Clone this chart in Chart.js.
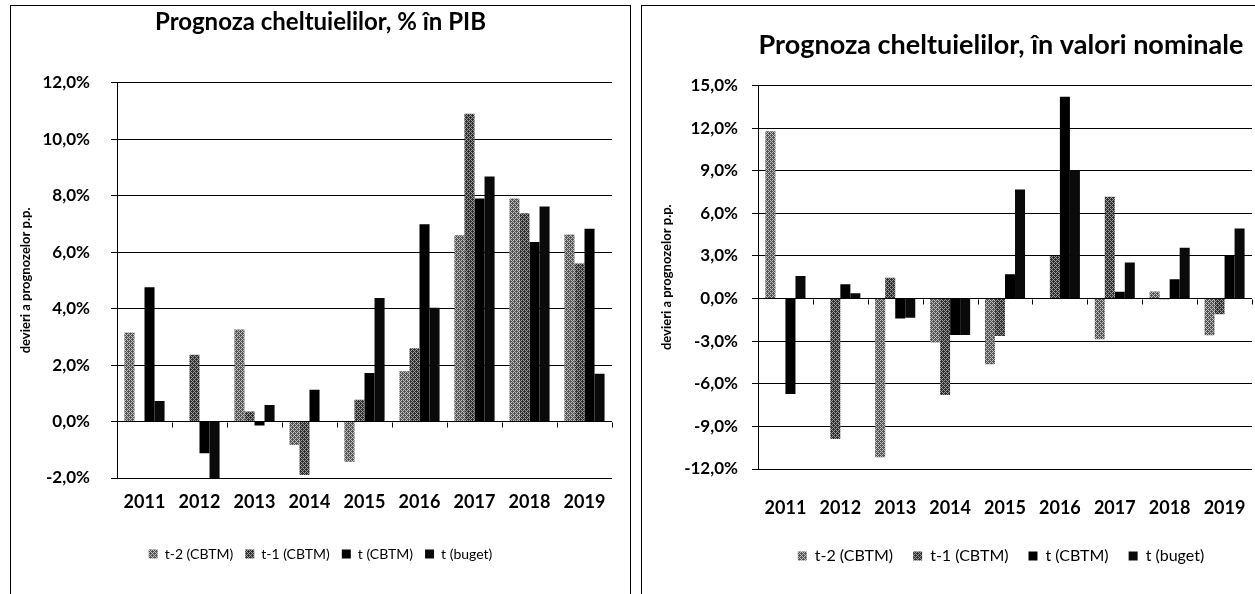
<!DOCTYPE html>
<html>
<head>
<meta charset="utf-8">
<script src="https://cdn.jsdelivr.net/npm/chart.js@4.4.1/dist/chart.umd.min.js"></script>
<style>
  html, body { margin: 0; padding: 0; background: #fff; overflow: hidden; width: 1255px; height: 594px; }
  .frame { position: absolute; border: 1px solid #000; }
  canvas { position: absolute; }
</style>
</head>
<body>
<div class="frame" style="left:10px; top:5px; width:619px; height:600px;"></div>
<div class="frame" style="left:641px; top:5px; width:720px; height:600px;"></div>
<canvas id="pibChart" width="619" height="587" style="left:11px; top:7px;"></canvas>
<canvas id="nomChart" width="718" height="587" style="left:642px; top:7px;"></canvas>
<script>
// categorii si serii
var years = ['2011', '2012', '2013', '2014', '2015', '2016', '2017', '2018', '2019'];
var seriesNames = ['t-2 (CBTM)', 't-1 (CBTM)', 't (CBTM)', 't (buget)'];

// Prognoza cheltuielilor, % in PIB
var pibTm2 = [3.15, 0, 3.26, -0.83, -1.42, 1.78, 6.6, 7.9, 6.63];
var pibTm1 = [0, 2.37, 0.36, -1.89, 0.77, 2.6, 10.9, 7.38, 5.6];
var pibT = [4.76, -1.12, -0.14, 1.13, 1.72, 6.99, 7.9, 6.36, 6.83];
var pibBuget = [0.73, -2.0, 0.59, 0, 4.38, 4.03, 8.68, 7.62, 1.69];

// Prognoza cheltuielilor, in valori nominale
var nomTm2 = [11.78, 0, -11.17, -3.09, -4.62, 0, -2.86, 0.5, -2.58];
var nomTm1 = [0, -9.89, 1.47, -6.8, -2.63, 3.0, 7.17, -0.05, -1.1];
var nomT = [-6.72, 1.0, -1.4, -2.56, 1.71, 14.2, 0.47, 1.36, 3.04];
var nomBuget = [1.59, 0.37, -1.35, -2.56, 7.68, 9.04, 2.53, 3.58, 4.92];

// axe
var pibTicks = {min: -2, max: 12, step: 2};
var nomTicks = {min: -12, max: 15, step: 3};

Chart.defaults.font.family = 'Lato, "Open Sans", sans-serif';
Chart.defaults.color = '#000';

function makePattern(dark, light) {
    var c = document.createElement('canvas');
    c.width = 4;
    c.height = 4;
    var g = c.getContext('2d');
    g.fillStyle = light;
    g.fillRect(0, 0, 4, 4);
    g.fillStyle = dark;
    var dots = [[0,0],[2,0],[1,1],[3,1],[0,2],[2,2],[1,3],[3,3],[1,0],[3,2]];
    dots.forEach(function(d) { g.fillRect(d[0], d[1], 1, 1); });
    return g.createPattern(c, 'repeat');
}

var fills = [
    makePattern('#555555', '#bdbdbd'),
    makePattern('#303030', '#9a9a9a'),
    '#000000',
    '#0a0a0a'
];

// mici liniute pe axa 0, intre categorii
var zeroTicks = {
    id: 'zeroTicks',
    afterDatasetsDraw: function(chart) {
        var x = chart.scales.x, y = chart.scales.y;
        var y0 = Math.round(y.getPixelForValue(0)) + 0.5;
        var n = chart.data.labels.length;
        var ctx = chart.ctx;
        ctx.save();
        ctx.strokeStyle = '#000';
        ctx.lineWidth = 1;
        ctx.beginPath();
        for (var i = 1; i <= n; i++) {
            var px = Math.round(x.left + (x.right - x.left) * i / n) + 0.5;
            ctx.moveTo(px, y0);
            ctx.lineTo(px, y0 + 5);
        }
        ctx.stroke();
        ctx.restore();
    }
};

function fmt(v) {
    return v.toFixed(1).replace('.', ',') + '%';
}

function drawChart(id, title, values, ticks, s) {
    var datasets = values.map(function(vals, i) {
        return {
            label: seriesNames[i],
            data: vals,
            backgroundColor: fills[i],
            borderWidth: 0,
            categoryPercentage: 0.73,
            barPercentage: 1.0
        };
    });
    return new Chart(document.getElementById(id), {
        type: 'bar',
        data: { labels: years, datasets: datasets },
        plugins: [zeroTicks],
        options: {
            responsive: false,
            animation: false,
            layout: { padding: { left: 0, right: 0, top: 0, bottom: s.padBottom } },
            plugins: {
                title: {
                    display: true,
                    text: title,
                    font: { size: s.titleSize, weight: 'bold' },
                    padding: { top: s.titleTop, bottom: s.titleBottom }
                },
                legend: {
                    position: 'bottom',
                    labels: {
                        boxWidth: 9,
                        boxHeight: 9,
                        padding: s.legendPad,
                        font: { size: s.legendSize }
                    }
                },
                tooltip: { enabled: false }
            },
            scales: {
                x: {
                    grid: { display: false, drawTicks: false },
                    border: { display: false },
                    ticks: { font: { size: 18, weight: 'bold' }, padding: s.xPad, maxRotation: 0 },
                    afterFit: function(scale) { scale.height = s.xHeight; }
                },
                y: {
                    min: ticks.min,
                    max: ticks.max,
                    grid: { color: '#000', lineWidth: 1, tickLength: 6 },
                    border: { color: '#000', width: 1 },
                    ticks: {
                        stepSize: ticks.step,
                        font: { size: 17, weight: 'bold' },
                        padding: s.yPad,
                        callback: function(v) { return fmt(v); }
                    },
                    title: {
                        display: true,
                        text: 'devieri a prognozelor p.p.',
                        font: { size: 13, weight: 'bold' },
                        padding: { top: s.yTitlePad, bottom: 0 }
                    },
                    afterFit: function(scale) { scale.width = s.yWidth; }
                },
                // spatiu gol in dreapta zonei de desen
                yEmpty: {
                    position: 'right',
                    grid: { display: false, drawTicks: false },
                    border: { display: false },
                    ticks: { display: false },
                    afterFit: function(scale) { scale.width = s.rightGap; }
                }
            }
        }
    });
}

drawChart('pibChart', 'Prognoza cheltuielilor, % în PIB',
    [pibTm2, pibTm1, pibT, pibBuget], pibTicks,
    { rightGap: 18, padBottom: 23, titleSize: 24, titleTop: 1, titleBottom: 46, xPad: 13, xHeight: 57,
      yPad: 21, yWidth: 106, yTitlePad: 7, legendSize: 14, legendPad: 12 });

drawChart('nomChart', 'Prognoza cheltuielilor, în valori nominale',
    [nomTm2, nomTm1, nomT, nomBuget], nomTicks,
    { rightGap: 108, padBottom: 20, titleSize: 27, titleTop: 22, titleBottom: 24, xPad: 28, xHeight: 59,
      yPad: 14, yWidth: 116, yTitlePad: 17, legendSize: 16, legendPad: 20 });
</script>
</body>
</html>
